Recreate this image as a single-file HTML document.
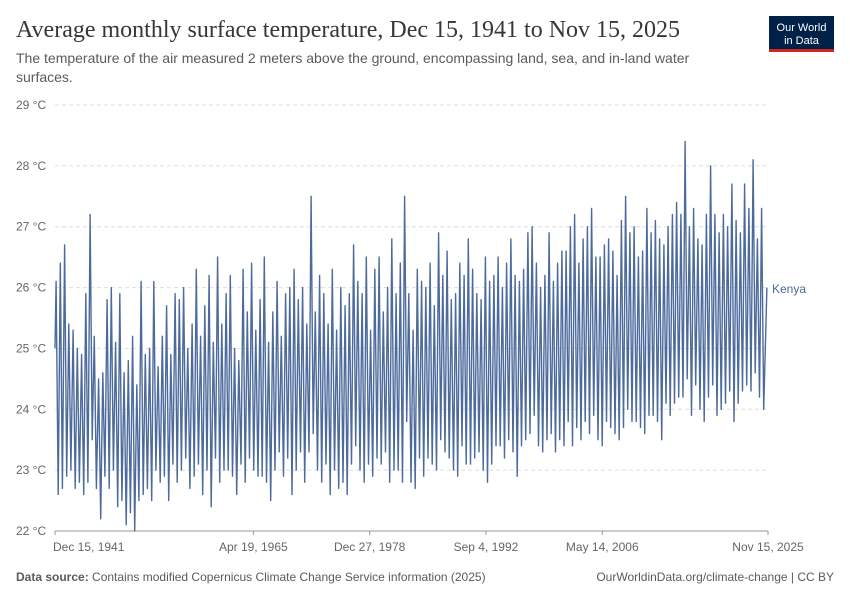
<!DOCTYPE html>
<html><head><meta charset="utf-8"><style>
body{margin:0;background:#fff;}
svg{display:block;font-family:"Liberation Sans",sans-serif;}
</style></head><body>
<svg id="chart" width="850" height="600">
<text x="16" y="37" font-family="Liberation Serif,serif" font-size="24" fill="#373737">Average monthly surface temperature, Dec 15, 1941 to Nov 15, 2025</text>
<text x="16" y="63" font-size="14" fill="#5b5b5b">The temperature of the air measured 2 meters above the ground, encompassing land, sea, and in-land water</text>
<text x="16" y="82" font-size="14" fill="#5b5b5b">surfaces.</text>
<g>
<rect x="769" y="16" width="65" height="34" fill="#002147"/>
<rect x="769" y="49" width="65" height="3" fill="#ce261e"/>
<text x="801.5" y="31" font-size="11" fill="#fff" text-anchor="middle">Our World</text>
<text x="801.5" y="44" font-size="11" fill="#fff" text-anchor="middle">in Data</text>
</g>
<g id="grid"></g><g id="xaxis"></g>
<path id="line" fill="none" stroke="#4c6a9c" stroke-width="1.4" stroke-linejoin="round"></path>
<text x="772" y="293" font-size="12" fill="#4c6a9c">Kenya</text>
<text x="16" y="581" font-size="12" fill="#5b5b5b"><tspan font-weight="bold">Data source:</tspan> Contains modified Copernicus Climate Change Service information (2025)</text>
<text x="834" y="581" font-size="12" fill="#5b5b5b" text-anchor="end">OurWorldinData.org/climate-change | CC BY</text>
</svg>
<script>
const yTicks=[22,23,24,25,26,27,28,29];
const xTickLabels=["Dec 15, 1941","Apr 19, 1965","Dec 27, 1978","Sep 4, 1992","May 14, 2006","Nov 15, 2025"];
const xTickTimes=[1941.958,1965.3,1978.99,1992.68,2006.37,2025.875];
const startValue=25.0;
const values=[
26.1,22.6,26.4,22.7, 26.7,22.9,25.4,23.0, 25.3,22.7,25.0,22.8, 24.9,22.6,25.9,22.8,
27.2,23.5,25.2,22.7, 24.5,22.2,24.6,22.9, 25.8,22.7,26.0,23.0, 25.1,22.4,25.9,22.5,
24.6,22.1,24.8,22.3, 25.2,22.0,24.4,22.5, 26.1,22.6,24.9,22.7, 25.0,22.5,26.1,23.0,
24.7,22.8,25.2,22.9, 25.7,22.5,24.9,23.1, 25.9,22.8,25.8,23.0, 26.0,23.2,25.0,22.7,
25.4,22.9,26.3,23.1, 25.2,22.6,25.7,23.0, 26.2,22.4,25.1,23.2, 26.5,22.8,25.4,23.0,
25.9,23.0,26.2,22.9, 25.0,22.6,24.8,23.1, 26.3,22.8,25.6,23.2, 26.4,23.0,25.3,22.9,
25.8,22.9,26.5,22.8, 25.1,22.5,25.6,23.0, 26.1,23.3,25.2,22.9, 25.9,23.2,26.0,22.6,
26.3,23.0,25.8,23.3, 26.0,22.8,25.4,23.3, 27.5,23.6,25.6,23.0, 26.2,22.8,25.9,23.1,
25.4,22.6,26.3,23.0, 25.3,22.7,26.0,22.8, 25.7,22.6,25.9,23.1, 26.7,23.4,26.1,23.0,
25.9,22.8,26.5,23.1, 25.3,22.9,26.3,23.2, 26.5,23.1,25.6,23.3, 26.0,22.8,26.8,23.0,
25.9,23.0,26.4,22.8, 27.5,23.8,25.9,22.8, 25.3,22.7,26.3,23.2, 26.1,22.9,26.0,23.2,
26.4,23.1,25.7,23.0, 26.9,23.5,26.2,23.3, 26.6,23.2,25.8,23.0, 25.9,22.9,26.4,23.4,
26.2,23.1,26.8,23.1, 26.3,23.2,25.9,23.3, 25.8,23.0,26.5,22.8, 26.1,23.1,26.2,23.4,
26.5,23.4,26.0,23.2, 26.4,23.5,26.8,23.3, 26.2,22.9,26.1,23.4, 26.3,23.5,26.9,23.6,
27.0,23.9,26.4,23.4, 26.0,23.3,26.2,23.5, 26.9,23.6,26.1,23.3, 26.4,23.5,26.6,23.4,
26.6,23.8,27.0,23.4, 27.2,23.7,26.4,23.5, 26.8,23.8,27.0,23.6, 27.3,23.9,26.5,23.5,
26.5,23.4,26.7,23.8, 26.8,23.7,26.6,23.6, 26.2,23.5,27.1,23.7, 27.5,24.0,26.9,23.8,
27.0,23.8,26.5,23.7, 26.6,23.6,27.3,23.9, 26.9,23.9,27.1,23.8, 26.8,23.5,26.7,24.1,
27.0,23.9,27.2,24.1, 27.4,24.2,27.2,24.2, 28.4,24.5,27.0,23.9, 27.3,24.4,26.8,24.0,
26.7,23.8,27.2,24.2, 28.0,24.4,27.2,23.9, 26.9,24.0,27.2,24.1, 27.0,24.3,27.7,23.8,
27.1,24.1,26.9,24.3, 27.7,24.4,27.3,24.3, 28.1,24.6,26.8,24.2, 27.3,24.0,26.0
];
const x0=55,x1=768,t0=1941.958,t1=2025.875;
const yTop=105,yBot=531,vMin=22,vMax=29;
function xs(t){return x0+(t-t0)/(t1-t0)*(x1-x0);}
function ys(v){return yBot-(v-vMin)/(vMax-vMin)*(yBot-yTop);}
const NS="http://www.w3.org/2000/svg";
const grid=document.getElementById('grid');
yTicks.forEach(v=>{
  const l=document.createElementNS(NS,'line');
  
  
  l.setAttribute('x1',55);l.setAttribute('x2',768);
  l.setAttribute('y1',ys(v));l.setAttribute('y2',ys(v));
  l.setAttribute('stroke',v===22?'#999':'#ddd');
  if(v!==22)l.setAttribute('stroke-dasharray','4,3');
  grid.appendChild(l);
  const t=document.createElementNS(NS,'text');
  
  
  t.setAttribute('x',16);t.setAttribute('y',ys(v)+4);
  t.setAttribute('font-size','12');t.setAttribute('fill','#666');
  t.textContent=v+' °C';
  grid.appendChild(t);
});
const xa=document.getElementById('xaxis');
xTickTimes.forEach((tt,i)=>{
  const x=xs(tt);
  const l=document.createElementNS(NS,'line');
  
  
  l.setAttribute('x1',x);l.setAttribute('x2',x);l.setAttribute('y1',531);l.setAttribute('y2',535);
  l.setAttribute('stroke','#999');
  xa.appendChild(l);
  const t=document.createElementNS(NS,'text');
  
  
  t.setAttribute('x',i===0?x-2:x);t.setAttribute('y',551);
  t.setAttribute('font-size','12');t.setAttribute('fill','#666');
  t.setAttribute('text-anchor',i===0?'start':'middle');
  t.textContent=xTickLabels[i];
  xa.appendChild(t);
});
let d='M'+xs(t0).toFixed(1)+','+ys(startValue).toFixed(1);
const step=(t1-t0-0.125)/values.length;
values.forEach((v,i)=>{
  const t=t0+0.125+i*step+(i===values.length-1?0.125:0);
  d+='L'+xs(t).toFixed(1)+','+ys(v).toFixed(1);
});
document.getElementById('line').setAttribute('d',d);
</script>
</body></html>
